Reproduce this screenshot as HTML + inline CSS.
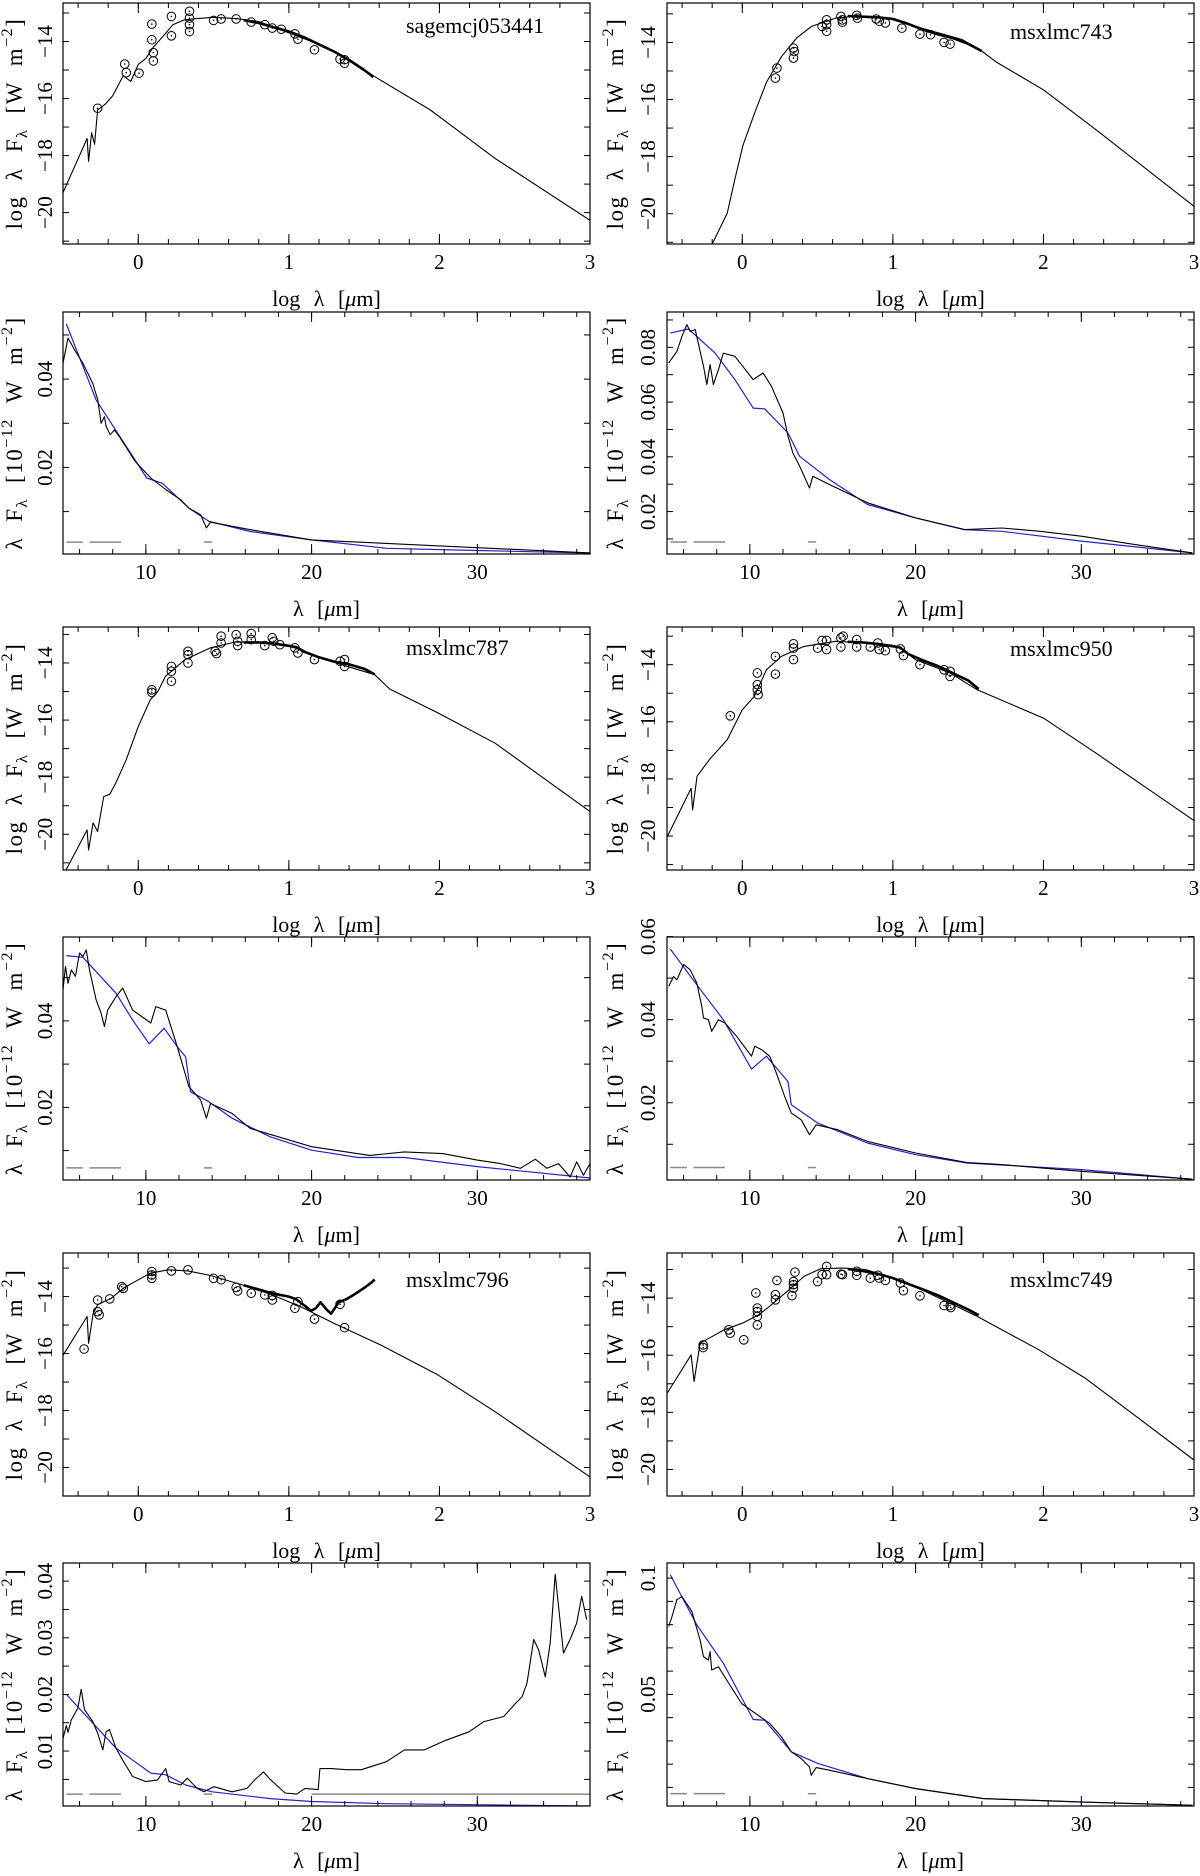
<!DOCTYPE html>
<html><head><meta charset="utf-8">
<style>
html,body{margin:0;padding:0;background:#fff;}
svg{display:block;}
text{font-family:"Liberation Serif",serif;fill:#000;}
</style></head>
<body>
<svg id="fig" width="1200" height="1876" viewBox="0 0 1200 1876" xmlns="http://www.w3.org/2000/svg"></svg>
<script>
// ---------- SED panel data ----------
const sed1_name="sagemcj053441";
const sed1_modelX=[-0.5,-0.34,-0.33,-0.31,-0.29,-0.27,-0.22,-0.17,-0.10,-0.05,0.0,0.05,0.10,0.15,0.23,0.30,0.38,0.5,0.66,0.8,1.0,1.2,1.35,1.56,1.94,2.37,3.0];
const sed1_modelY=[-19.3,-17.4,-18.2,-17.2,-17.6,-16.4,-16.2,-15.9,-15.2,-15.4,-14.8,-14.6,-14.2,-13.9,-13.41,-13.25,-13.2,-13.15,-13.2,-13.3,-13.7,-14.1,-14.5,-15.2,-16.4,-18.1,-20.27];
const sed1_specX=[0.7,0.8,0.9,1.0,1.1,1.2,1.3,1.4,1.5,1.55,1.56];
const sed1_specY=[-13.25,-13.35,-13.5,-13.65,-13.85,-14.1,-14.35,-14.65,-15.0,-15.2,-15.25];
const sed1_ptX=[0.34,0.34,0.34,0.34,0.22,0.22,0.09,0.09,0.1,0.1,0.005,-0.09,-0.08,-0.27,0.5,0.55,0.65,0.75,0.84,0.89,0.95,1.04,1.06,1.17,1.34,1.37,1.37];
const sed1_ptY=[-12.94,-13.18,-13.41,-13.65,-13.12,-13.8,-13.39,-13.94,-14.39,-14.68,-15.11,-14.79,-15.09,-16.34,-13.26,-13.21,-13.21,-13.32,-13.41,-13.53,-13.57,-13.73,-13.92,-14.29,-14.62,-14.76,-14.64];

const sed2_name="msxlmc743";
const sed2_modelX=[-0.2,-0.1,-0.05,0.005,0.08,0.16,0.26,0.36,0.46,0.62,0.77,1.0,1.15,1.46,1.59,1.69,2.0,2.35,3.0];
const sed2_modelY=[-21.06,-19.98,-18.8,-17.6,-16.5,-15.4,-14.5,-13.85,-13.44,-13.15,-13.07,-13.18,-13.44,-13.9,-14.3,-14.7,-15.66,-17.06,-19.74];
const sed2_specX=[0.7,0.8,0.9,1.0,1.1,1.2,1.3,1.4,1.5,1.59];
const sed2_specY=[-13.08,-13.1,-13.12,-13.18,-13.35,-13.55,-13.72,-13.85,-14.05,-14.3];
const sed2_ptX=[0.23,0.22,0.34,0.345,0.34,0.53,0.56,0.56,0.56,0.655,0.665,0.665,0.76,0.765,0.89,0.91,0.95,1.06,1.18,1.25,1.34,1.38];
const sed2_ptY=[-14.9,-15.25,-14.2,-14.32,-14.55,-13.44,-13.21,-13.38,-13.61,-13.09,-13.21,-13.29,-13.05,-13.15,-13.18,-13.26,-13.32,-13.5,-13.71,-13.73,-14.0,-14.06];

const sed3_name="msxlmc787";
const sed3_modelX=[-0.48,-0.34,-0.33,-0.3,-0.27,-0.23,-0.19,-0.15,-0.08,0,0.08,0.13,0.18,0.31,0.48,0.64,0.84,1.05,1.15,1.35,1.57,1.67,1.99,2.37,3.0];
const sed3_modelY=[-21.25,-19.85,-20.55,-19.6,-19.9,-18.68,-18.6,-18.21,-17.39,-16.22,-15.29,-15.0,-14.47,-13.88,-13.47,-13.27,-13.27,-13.42,-13.71,-14.06,-14.41,-14.91,-15.75,-16.81,-19.2];
const sed3_specX=[0.7,0.8,0.9,1.0,1.05,1.1,1.2,1.3,1.4,1.5,1.57];
const sed3_specY=[-13.28,-13.28,-13.32,-13.4,-13.45,-13.6,-13.8,-13.95,-14.05,-14.2,-14.4];
const sed3_ptX=[0.09,0.09,0.22,0.22,0.22,0.33,0.33,0.33,0.51,0.52,0.55,0.55,0.65,0.66,0.66,0.75,0.75,0.84,0.89,0.9,0.94,1.04,1.06,1.17,1.34,1.37,1.37];
const sed3_ptY=[-14.94,-15.03,-14.12,-14.29,-14.64,-13.59,-13.71,-14.0,-13.59,-13.67,-13.06,-13.3,-13.01,-13.24,-13.39,-12.97,-13.18,-13.39,-13.12,-13.24,-13.36,-13.47,-13.65,-13.88,-13.94,-13.88,-14.12];

const sed4_name="msxlmc950";
const sed4_modelX=[-0.52,-0.34,-0.33,-0.3,-0.22,-0.1,0,0.08,0.16,0.26,0.41,0.62,0.82,1.05,1.15,1.38,1.56,2.0,2.35,3.0];
const sed4_modelY=[-20.26,-18.33,-19.09,-17.9,-17.33,-16.63,-15.58,-15.11,-14.18,-13.71,-13.36,-13.18,-13.24,-13.42,-13.82,-14.29,-14.88,-15.87,-17.1,-19.46];
const sed4_specX=[0.7,0.8,0.9,1.0,1.05,1.1,1.2,1.3,1.4,1.5,1.57];
const sed4_specY=[-13.2,-13.22,-13.28,-13.35,-13.4,-13.62,-13.85,-14.05,-14.3,-14.55,-14.85];
const sed4_ptX=[-0.08,0.1,0.1,0.1,0.105,0.22,0.22,0.34,0.34,0.34,0.5,0.53,0.56,0.56,0.655,0.67,0.655,0.76,0.76,0.85,0.9,0.91,0.95,1.05,1.07,1.18,1.34,1.38,1.38];
const sed4_ptY=[-15.79,-14.29,-14.7,-14.88,-15.05,-13.71,-14.33,-13.27,-13.42,-13.82,-13.42,-13.15,-13.15,-13.47,-13.06,-13.0,-13.38,-13.12,-13.38,-13.38,-13.24,-13.47,-13.51,-13.45,-13.68,-14.0,-14.18,-14.23,-14.41];

const sed5_name="msxlmc796";
const sed5_modelX=[-0.52,-0.34,-0.33,-0.3,-0.27,-0.18,-0.1,0,0.08,0.2,0.33,0.48,0.69,0.89,1.1,1.3,1.61,1.99,2.37,3.0];
const sed5_modelY=[-16.23,-14.7,-15.64,-14.6,-14.29,-14.06,-13.71,-13.41,-13.18,-13.06,-13.1,-13.26,-13.59,-13.94,-14.41,-14.94,-15.7,-16.75,-18.04,-20.33];
const sed5_specX=[0.7,0.8,0.9,1.0,1.05,1.1,1.15,1.18,1.21,1.25,1.28,1.3,1.33,1.38,1.43,1.5,1.55,1.57];
const sed5_specY=[-13.6,-13.75,-13.9,-14.0,-14.1,-14.3,-14.5,-14.4,-14.2,-14.45,-14.6,-14.45,-14.2,-14.1,-13.94,-13.7,-13.5,-13.4];
const sed5_ptX=[-0.36,-0.27,-0.27,-0.26,-0.19,-0.11,-0.1,0.09,0.09,0.09,0.22,0.33,0.5,0.55,0.65,0.66,0.75,0.84,0.89,0.89,1.04,1.06,1.17,1.34,1.37];
const sed5_ptY=[-15.84,-14.12,-14.53,-14.64,-14.08,-13.65,-13.71,-13.12,-13.24,-13.36,-13.1,-13.06,-13.36,-13.41,-13.68,-13.8,-13.88,-13.94,-13.96,-14.12,-14.41,-14.18,-14.79,-14.27,-15.09];

const sed6_name="msxlmc749";
const sed6_modelX=[-0.52,-0.34,-0.32,-0.28,-0.12,0,0.11,0.18,0.31,0.41,0.52,0.67,0.82,1.08,1.33,1.56,1.97,2.28,3.0];
const sed6_modelY=[-17.51,-15.99,-16.92,-15.58,-15.11,-14.88,-14.58,-14.29,-13.71,-13.24,-12.97,-12.95,-13.0,-13.42,-14.06,-14.64,-15.81,-16.81,-19.67];
const sed6_specX=[0.7,0.8,0.9,1.0,1.1,1.2,1.3,1.4,1.5,1.57];
const sed6_specY=[-12.98,-13.05,-13.15,-13.3,-13.5,-13.7,-13.9,-14.15,-14.4,-14.6];
const sed6_ptX=[-0.26,-0.26,-0.09,-0.08,0.01,0.09,0.1,0.1,0.1,0.1,0.23,0.22,0.22,0.34,0.34,0.34,0.33,0.35,0.5,0.53,0.56,0.56,0.655,0.665,0.76,0.76,0.85,0.9,0.91,0.95,1.05,1.07,1.18,1.34,1.38,1.385];
const sed6_ptY=[-15.64,-15.73,-15.11,-15.23,-15.46,-13.82,-14.35,-14.47,-14.64,-14.94,-13.38,-13.88,-14.06,-13.42,-13.53,-13.65,-13.91,-13.09,-13.42,-13.18,-12.89,-13.18,-13.16,-13.18,-13.06,-13.2,-13.3,-13.2,-13.3,-13.38,-13.47,-13.74,-13.92,-14.26,-14.26,-14.33];

// ---------- Spectrum panel data ----------
const spec1_blueX=[5.2,7.0,10.05,11.0,12.6,13.8,16.3,20,24.5,30,37];
const spec1_blueY=[0.0525,0.0353,0.0176,0.0164,0.0108,0.0078,0.0055,0.0036,0.0017,0.0012,0.0006];
const spec1_obsX=[5.0,5.3,5.5,5.7,6.2,6.8,7.1,7.3,7.5,7.6,7.85,8.1,8.4,9.35,10.3,11.2,12.1,12.6,13.3,13.65,13.9,16.3,20,37];
const spec1_obsY=[0.0436,0.0493,0.048,0.0466,0.0436,0.039,0.0353,0.03,0.0315,0.0293,0.0274,0.0285,0.027,0.0214,0.0176,0.015,0.0127,0.0108,0.0093,0.0063,0.0076,0.0059,0.0036,0.0006];
const spec1_dashY=0.0031;

const spec2_blueX=[5.2,6.3,7.9,9.1,10.2,10.9,12.3,13.0,14.8,17.1,20,22.9,25.2,30,36.7];
const spec2_blueY=[0.0852,0.0867,0.0779,0.0682,0.0578,0.0575,0.0487,0.0402,0.0317,0.0226,0.0177,0.0134,0.0128,0.0092,0.0049];
const spec2_obsX=[5.1,5.6,5.9,6.2,6.4,6.7,7.2,7.4,7.6,7.8,8.1,8.4,9.1,10.2,10.8,11.3,12.0,12.3,12.6,13.0,13.6,13.8,14.8,17.1,20,23,25.2,27.5,30,33.2,36.7];
const spec2_obsY=[0.0743,0.0785,0.084,0.0883,0.0858,0.0865,0.0731,0.0664,0.0737,0.0664,0.0718,0.0779,0.0767,0.0682,0.0706,0.0658,0.056,0.0475,0.0414,0.0366,0.0286,0.0329,0.0299,0.0232,0.0177,0.0134,0.014,0.0128,0.011,0.008,0.0049];
const spec2_dashY=0.0089;

const spec3_blueX=[5.2,6.2,8.2,9.2,10.2,11.1,11.9,12.4,12.7,13.8,15.2,17.5,20,22.8,25.6,30,37];
const spec3_blueY=[0.0551,0.0547,0.0464,0.0402,0.0347,0.0383,0.034,0.0317,0.0236,0.0213,0.0175,0.0132,0.0101,0.0084,0.0084,0.0063,0.0036];
const spec3_obsX=[5.0,5.15,5.3,5.5,5.75,6.0,6.2,6.4,6.6,7.0,7.3,7.5,7.7,8.2,8.6,9.2,10.3,10.6,11.2,11.9,12.6,13.3,13.65,13.9,15.2,16.3,18,20,22.1,23.5,25.6,27.9,30,31.4,32.6,33.5,34.2,34.9,35.6,36,36.4,36.8];
const spec3_obsY=[0.0472,0.0526,0.0487,0.0518,0.0503,0.0557,0.0549,0.0564,0.0518,0.0449,0.0418,0.0387,0.0425,0.0456,0.0476,0.0425,0.0395,0.0433,0.0425,0.034,0.0248,0.0217,0.0175,0.0209,0.0186,0.0151,0.0132,0.0109,0.0097,0.0089,0.0097,0.0093,0.0078,0.007,0.0059,0.008,0.0059,0.007,0.0039,0.0074,0.0043,0.007];
const spec3_dashY=0.006;

const spec4_blueX=[5.2,6.8,8.4,10.1,11.0,12.3,12.5,14.1,17.1,20,23.1,30,36.7];
const spec4_blueY=[0.057,0.0484,0.04,0.0281,0.0312,0.0251,0.0195,0.0151,0.0103,0.0075,0.0055,0.0039,0.0016];
const spec4_obsX=[5.1,5.4,5.6,6.0,6.4,6.8,7.1,7.2,7.5,7.7,8.1,8.5,9.2,10.1,10.3,10.7,11.2,11.6,12.1,12.5,13.1,13.6,14.0,15.3,17.1,20,23.1,25.2,30,36.7];
const spec4_obsY=[0.048,0.0504,0.0496,0.0533,0.052,0.0488,0.0432,0.0404,0.04,0.0372,0.04,0.0392,0.036,0.0312,0.0336,0.0328,0.0312,0.0271,0.0215,0.0175,0.0159,0.0123,0.0147,0.0135,0.0107,0.0079,0.0056,0.0051,0.0035,0.0016];
const spec4_dashY=0.0044;

const spec5_blueX=[5.2,8.2,10.3,11.2,12.4,14,17.5,20,24.5,37];
const spec5_blueY=[0.02,0.0105,0.0061,0.0058,0.004,0.0028,0.0016,0.0011,0.0007,0.0003];
const spec5_obsX=[5.0,5.2,5.3,5.5,5.9,6.1,6.3,6.8,7.1,7.4,7.6,7.8,8.2,8.6,9.2,10.0,10.7,11.2,11.4,12.1,12.5,13.1,13.5,14.1,15.2,16.1,16.6,17.1,17.5,18.4,19.1,19.6,20.4,20.5,21.2,22.1,23,24.5,25.6,26.8,28.1,29.5,30.4,31.6,32.3,32.7,33,33.4,33.7,34.1,34.4,34.7,34.9,35.2,35.6,36,36.3,36.6];
const spec5_obsY=[0.0122,0.0145,0.0133,0.0155,0.0176,0.0209,0.0173,0.0152,0.0131,0.0102,0.0134,0.0138,0.0105,0.0084,0.0055,0.0046,0.0049,0.0069,0.0046,0.004,0.0052,0.0034,0.0028,0.0037,0.0028,0.0034,0.005,0.0063,0.005,0.0026,0.0024,0.0034,0.0032,0.0069,0.0069,0.0067,0.0067,0.0081,0.0102,0.0102,0.0119,0.0134,0.0152,0.0161,0.0184,0.0196,0.022,0.0297,0.0279,0.0231,0.0291,0.0412,0.0356,0.0273,0.0297,0.0326,0.0373,0.0332];
const spec5_dashY=0.0024;

const spec6_blueX=[5.2,6.8,8.4,10.2,10.9,12.5,14.1,17.1,20,24.1,30,36.7];
const spec6_blueY=[0.1014,0.0799,0.0634,0.0392,0.0389,0.0253,0.0203,0.0138,0.0095,0.0052,0.0037,0.0023];
const spec6_obsX=[5.1,5.3,5.6,5.9,6.5,7.0,7.2,7.5,7.6,7.7,8.1,8.6,9.5,10.2,11.2,11.9,12.5,13.1,13.6,13.7,14.0,14.8,17.1,20,24.1,30,36.7];
const spec6_obsY=[0.0792,0.0835,0.0907,0.0921,0.0856,0.0734,0.0662,0.0648,0.0684,0.0605,0.0619,0.0562,0.0461,0.0425,0.0375,0.0318,0.0253,0.0224,0.0188,0.0152,0.0185,0.0174,0.0138,0.0095,0.0052,0.0037,0.0023];
const spec6_dashY=0.0073;

const spec1_yLabels=[0.02,0.04];
const spec2_yLabels=[0.02,0.04,0.06,0.08];
const spec3_yLabels=[0.02,0.04];
const spec4_yLabels=[0.02,0.04,0.06];
const spec5_yLabels=[0.01,0.02,0.03,0.04];
const spec6_yLabels=[0.05,0.1];
const sedXLabels=[0,1,2,3];
const sedYLabels=[-14,-16,-18,-20];
const specXLabels=[10,20,30];

// ---------- drawing ----------
const NS="http://www.w3.org/2000/svg";
const svg=document.getElementById('fig');
function mk(tag,attrs,parent){const e=document.createElementNS(NS,tag);for(const k in attrs)e.setAttribute(k,attrs[k]);(parent||svg).appendChild(e);return e;}
let clipId=0;
function poly(xs,ys,sx,sy,stroke,w,g,name){
  let d='';for(let i=0;i<xs.length;i++){d+=(i?'L':'M')+sx(xs[i]).toFixed(1)+','+sy(ys[i]).toFixed(1);}
  const p=mk('path',{d:d,fill:'none',stroke:stroke,'stroke-width':w,'stroke-linejoin':'round'},g);
  
  
  return p;
}
function fmt(v){return (v<0?'\u2212':'')+String(Math.abs(v));}
function frame(g,L,T,W,H,name){
  const r=mk('rect',{x:L,y:T,width:W,height:H,fill:'none',stroke:'#000','stroke-width':1.2},g);
  
  
}
function ticksX(g,L,T,W,H,sx,list,len){
  for(const v of list){const x=sx(v);if(x<L-0.5||x>L+W+0.5)continue;
    mk('line',{x1:x,y1:T+H,x2:x,y2:T+H-len,stroke:'#000','stroke-width':1},g);
    mk('line',{x1:x,y1:T,x2:x,y2:T+len,stroke:'#000','stroke-width':1},g);}
}
function ticksY(g,L,T,W,H,sy,list,len){
  for(const v of list){const y=sy(v);if(y<T-0.5||y>T+H+0.5)continue;
    mk('line',{x1:L,y1:y,x2:L+len,y2:y,stroke:'#000','stroke-width':1},g);
    mk('line',{x1:L+W,y1:y,x2:L+W-len,y2:y,stroke:'#000','stroke-width':1},g);}
}
function xLabels(g,T,H,sx,labels){
  for(const v of labels){const t=mk('text',{x:sx(v),y:T+H+25,'font-size':21,'text-anchor':'middle'},g);t.textContent=fmt(v);
    
    }
}
function yLabels(g,bx,sy,labels){
  for(const v of labels){const y=sy(v);const t=mk('text',{x:bx,y:y,'font-size':21,'text-anchor':'middle',transform:'rotate(-90 '+bx+' '+y+')'},g);t.textContent=fmt(v);
    
    }
}
function xTitle(g,cx,y,isLog){
  const t=mk('text',{x:cx,y:y,'font-size':22,'text-anchor':'middle','word-spacing':8},g);
  t.innerHTML=(isLog?'log \u03bb ':'\u03bb ')+'[<tspan font-style="italic">\u03bc</tspan>m]';
  
  
}
function yTitle(g,bx,cy,isLog){
  const t=mk('text',{x:bx,y:cy,'font-size':23,'text-anchor':'middle','letter-spacing':1.5,'word-spacing':8,transform:'rotate(-90 '+bx+' '+cy+')'},g);
  if(isLog) t.innerHTML='log \u03bb F<tspan font-size="16" dy="5">\u03bb</tspan><tspan dy="-5"> [W m</tspan><tspan font-size="16" dy="-10">\u22122</tspan><tspan dy="10">]</tspan>';
  else t.innerHTML='\u03bb F<tspan font-size="16" dy="5">\u03bb</tspan><tspan dy="-5"> [10</tspan><tspan font-size="16" dy="-10">\u221212</tspan><tspan dy="10"> W m</tspan><tspan font-size="16" dy="-10">\u22122</tspan><tspan dy="10">]</tspan>';
  
  
}
function clip(g,L,T,W,H){
  const id='c'+(clipId++);const cp=mk('clipPath',{id:id},g);mk('rect',{x:L,y:T,width:W,height:H},cp);
  return mk('g',{'clip-path':'url(#'+id+')'},g);
}
function range(a,b,s){const r=[];for(let v=a;v<=b+1e-9;v+=s)r.push(Math.round(v*1e6)/1e6);return r;}

function sedPanel(p){
  const {L,T,W,H,y0,y1,name,mX,mY,sX,sY,pX,pY,nameY,col}=p;
  const g=mk('g',{});
  
  
  const sx=v=>L+(v+0.5)/3.5*W;
  const sy=v=>T+(y1-v)/(y1-y0)*H;
  const c=clip(g,L,T,W,H);
  poly(mX,mY,sx,sy,'#000',1.1,c,'model-sed-line');
  poly(sX,sY,sx,sy,'#000',2.6,c,'spectrum-sed-line');
  for(let i=0;i<pX.length;i++){
    const ci=mk('circle',{cx:sx(pX[i]),cy:sy(pY[i]),r:4.3,fill:'none',stroke:'#000','stroke-width':1},c);
    
    
    mk('circle',{cx:sx(pX[i]),cy:sy(pY[i]),r:0.8,fill:'#000'},c);
  }
  frame(g,L,T,W,H,'plot-frame');
  ticksX(g,L,T,W,H,sx,range(-0.4,3,0.2),5);
  ticksX(g,L,T,W,H,sx,range(0,3,1),10);
  ticksY(g,L,T,W,H,sy,range(-21,-13,1),6);
  xLabels(g,T,H,sx,sedXLabels);
  yLabels(g,col?655:52,sy,sedYLabels);
  xTitle(g,L+W/2,T+H+62,true);
  yTitle(g,col?623:22,T+H/2,true);
  const nt=mk('text',{x:L+343,y:T+nameY,'font-size':22},g);nt.textContent=name;
  
  
}
function specPanel(p){
  const {L,T,W,H,y0,y1,bX,bY,oX,oY,dashY,labels,minor,col,full}=p;
  const g=mk('g',{});
  
  
  const sx=v=>L+(v-5)/31.8*W;
  const sy=v=>T+(y1-v)/(y1-y0)*H;
  const c=clip(g,L,T,W,H);
  const dg=[[5.2,6.2],[6.6,8.5],[13.5,14.0]];
  if(full)dg.push([20,37]);
  for(const s of dg){const l=mk('line',{x1:sx(s[0]),x2:sx(s[1]),y1:sy(dashY),y2:sy(dashY),stroke:'#888','stroke-width':1.5},c);
    
    }
  poly(bX,bY,sx,sy,'#2222cc',1.2,c,'model-spectrum-line');
  poly(oX,oY,sx,sy,'#000',1.1,c,'observed-spectrum-line');
  frame(g,L,T,W,H,'plot-frame');
  ticksX(g,L,T,W,H,sx,range(6,36,2),5);
  ticksX(g,L,T,W,H,sx,[10,20,30],10);
  ticksY(g,L,T,W,H,sy,range(minor,0.11,minor),6);
  xLabels(g,T,H,sx,specXLabels);
  yLabels(g,col?655:52,sy,labels);
  xTitle(g,L+W/2,T+H+62,false);
  yTitle(g,col?623:22,T+H/2,false);
}
const LX=63,RX=667,PW=527;
sedPanel({L:LX,T:3,W:PW,H:241,y0:-21.1,y1:-12.65,name:sed1_name,mX:sed1_modelX,mY:sed1_modelY,sX:sed1_specX,sY:sed1_specY,pX:sed1_ptX,pY:sed1_ptY,nameY:30,col:0});
sedPanel({L:RX,T:3,W:PW,H:241,y0:-21.06,y1:-12.62,name:sed2_name,mX:sed2_modelX,mY:sed2_modelY,sX:sed2_specX,sY:sed2_specY,pX:sed2_ptX,pY:sed2_ptY,nameY:36,col:1});
specPanel({L:LX,T:312,W:PW,H:242,y0:0.0004,y1:0.0552,bX:spec1_blueX,bY:spec1_blueY,oX:spec1_obsX,oY:spec1_obsY,dashY:spec1_dashY,labels:spec1_yLabels,minor:0.01,col:0});
specPanel({L:RX,T:312,W:PW,H:242,y0:0.0045,y1:0.0929,bX:spec2_blueX,bY:spec2_blueY,oX:spec2_obsX,oY:spec2_obsY,dashY:spec2_dashY,labels:spec2_yLabels,minor:0.01,col:1});
sedPanel({L:LX,T:627,W:PW,H:243,y0:-21.25,y1:-12.74,name:sed3_name,mX:sed3_modelX,mY:sed3_modelY,sX:sed3_specX,sY:sed3_specY,pX:sed3_ptX,pY:sed3_ptY,nameY:28,col:0});
sedPanel({L:RX,T:627,W:PW,H:243,y0:-21.19,y1:-12.68,name:sed4_name,mX:sed4_modelX,mY:sed4_modelY,sX:sed4_specX,sY:sed4_specY,pX:sed4_ptX,pY:sed4_ptY,nameY:29,col:1});
specPanel({L:LX,T:937,W:PW,H:243,y0:0.0032,y1:0.0594,bX:spec3_blueX,bY:spec3_blueY,oX:spec3_obsX,oY:spec3_obsY,dashY:spec3_dashY,labels:spec3_yLabels,minor:0.01,col:0});
specPanel({L:RX,T:937,W:PW,H:243,y0:0.0014,y1:0.0599,bX:spec4_blueX,bY:spec4_blueY,oX:spec4_obsX,oY:spec4_obsY,dashY:spec4_dashY,labels:spec4_yLabels,minor:0.01,col:1});
sedPanel({L:LX,T:1253,W:PW,H:243,y0:-21.0,y1:-12.47,name:sed5_name,mX:sed5_modelX,mY:sed5_modelY,sX:sed5_specX,sY:sed5_specY,pX:sed5_ptX,pY:sed5_ptY,nameY:34,col:0});
sedPanel({L:RX,T:1253,W:PW,H:243,y0:-20.93,y1:-12.42,name:sed6_name,mX:sed6_modelX,mY:sed6_modelY,sX:sed6_specX,sY:sed6_specY,pX:sed6_ptX,pY:sed6_ptY,nameY:34,col:1});
specPanel({L:LX,T:1563,W:PW,H:243,y0:0.0003,y1:0.0432,bX:spec5_blueX,bY:spec5_blueY,oX:spec5_obsX,oY:spec5_obsY,dashY:spec5_dashY,labels:spec5_yLabels,minor:0.005,col:0,full:1});
specPanel({L:RX,T:1563,W:PW,H:243,y0:0.002,y1:0.1065,bX:spec6_blueX,bY:spec6_blueY,oX:spec6_obsX,oY:spec6_obsY,dashY:spec6_dashY,labels:spec6_yLabels,minor:0.01,col:1});
</script>
</body></html>
